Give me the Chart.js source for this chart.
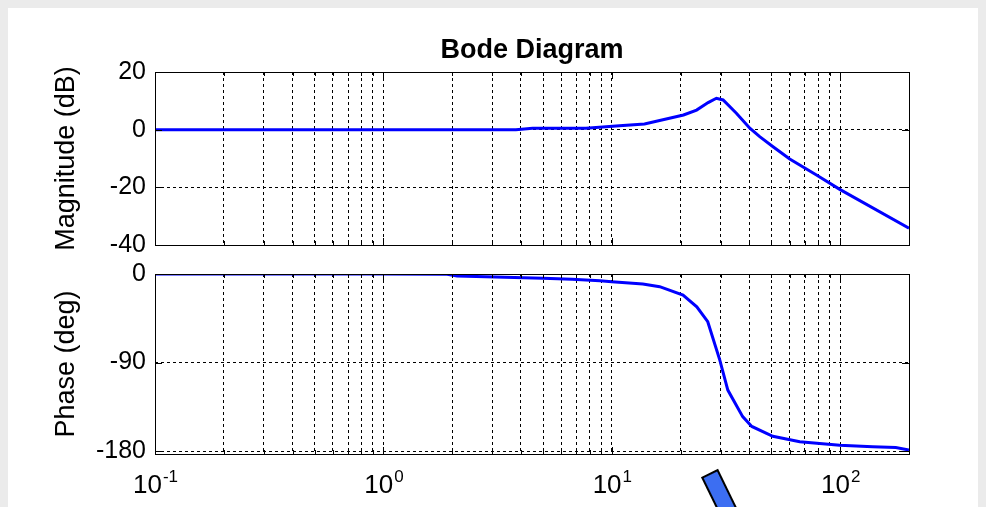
<!DOCTYPE html>
<html>
<head>
<meta charset="utf-8">
<script src="https://cdn.jsdelivr.net/npm/chart.js@4.4.0/dist/chart.umd.min.js"></script>
<style>
  html, body { margin: 0; padding: 0; background: #ebebeb; }
  #page { position: relative; width: 986px; height: 507px; overflow: hidden; }
  #panel { position: absolute; left: 8px; top: 8px; width: 970px; height: 499px; background: #fff; }
  #magChart { position: absolute; left: 0; top: 0; }
  #phaseChart { position: absolute; left: 0; top: 262px; }
  #arrow {
    position: absolute; left: 700px; top: 473px; width: 19px; height: 80px;
    box-sizing: border-box; background: #3c6ef2; border: 2px solid #000;
    transform-origin: 50% 0; transform: rotate(-26deg);
  }
</style>
</head>
<body>
<div id="page">
  <div id="panel"></div>
  <canvas id="magChart" width="986" height="262"></canvas>
  <canvas id="phaseChart" width="986" height="245"></canvas>
  <div id="arrow"></div>
</div>
<script>
// Magnitude curve (dB)
const magFreq = [0.1, 1, 3.8, 4.5, 7.7, 10.8, 13.9, 20.6, 23.5, 26.4, 28.7, 30.7, 35.1, 40.2, 44.4, 50.8, 60.1, 78.7, 99.5, 200];
const magDb   = [0, 0, 0, 0.45, 0.5, 1.4, 2.0, 5.1, 6.8, 9.4, 10.9, 10.3, 5.7, 0.5, -2.4, -5.9, -10.2, -15.7, -20.7, -34.2];

// Phase curve (deg)
const phaseFreq = [0.1, 1, 1.9, 2.1, 5.0, 6.7, 8.86, 10, 13.67, 16.2, 20.5, 23.55, 26.3, 29.7, 32.2, 37.4, 41, 50.7, 66.5, 99.5, 138.7, 175, 200];
const phaseDeg  = [0, 0, -0.3, -2, -4.4, -5.4, -6.8, -7.8, -10.2, -12.9, -21.4, -33.3, -48.5, -87.5, -118, -145, -155, -165, -170.6, -174, -175.6, -176.5, -179];

const magTicks = [-40, -20, 0, 20];
const phaseTicks = [-180, -90, 0];
const decadeLabels = [[0.1, "-1"], [1, "0"], [10, "1"], [100, "2"]];

const FONT = "Arial, 'Liberation Sans', Helvetica, sans-serif";

// every 1..9 x 10^n inside the range, for grid lines and minor ticks
function logGridTicks(scale) {
  const out = [];
  for (let e = -1; e <= 2; e++) {
    for (let m = 1; m <= 9; m++) {
      const v = m * Math.pow(10, e);
      if (v >= scale.min - 1e-9 && v <= scale.max + 1e-9) out.push({ value: v, major: m === 1 });
    }
  }
  scale.ticks = out;
}

// MATLAB-like box with inward ticks, plus title / decade labels
const boxPlugin = {
  id: "box",
  afterDraw(chart, args, opts) {
    const { ctx, chartArea: a, scales } = chart;
    ctx.save();
    ctx.strokeStyle = "#000";
    ctx.lineWidth = 1;
    ctx.strokeRect(a.left + 0.5, a.top + 0.5, a.right - a.left, a.bottom - a.top);
    ctx.beginPath();
    scales.x.ticks.forEach(t => {
      const x = Math.round(scales.x.getPixelForValue(t.value)) + 0.5;
      const len = t.major ? 7 : 4;
      ctx.moveTo(x, a.top); ctx.lineTo(x, a.top + len);
      ctx.moveTo(x, a.bottom); ctx.lineTo(x, a.bottom - len);
    });
    scales.y.ticks.forEach(t => {
      const y = Math.round(scales.y.getPixelForValue(t.value)) + 0.5;
      ctx.moveTo(a.left, y); ctx.lineTo(a.left + 7, y);
      ctx.moveTo(a.right, y); ctx.lineTo(a.right - 7, y);
    });
    ctx.stroke();

    ctx.fillStyle = "#000";
    if (opts.title) {
      ctx.font = "bold 27px " + FONT;
      ctx.textAlign = "center";
      ctx.textBaseline = "alphabetic";
      ctx.fillText(opts.title, (a.left + a.right) / 2, 58);
    }
    if (opts.decades) {
      decadeLabels.forEach(([v, exp]) => {
        const x = scales.x.getPixelForValue(v);
        ctx.font = "26px " + FONT;
        const w1 = ctx.measureText("10").width;
        ctx.font = "17px " + FONT;
        const w2 = ctx.measureText(exp).width;
        const x0 = x - (w1 + w2) / 2;
        ctx.textAlign = "left";
        ctx.textBaseline = "alphabetic";
        ctx.font = "26px " + FONT;
        ctx.fillText("10", x0, a.bottom + 39);
        ctx.font = "17px " + FONT;
        ctx.fillText(exp, x0 + w1 + 1, a.bottom + 28);
      });
    }
    ctx.restore();
  }
};

function bodeOptions(cfg) {
  return {
    responsive: false,
    animation: false,
    layout: { padding: cfg.padding },
    plugins: { legend: { display: false }, tooltip: { enabled: false }, box: cfg.box },
    scales: {
      x: {
        type: "logarithmic",
        min: 0.1,
        max: 200,
        afterBuildTicks: logGridTicks,
        ticks: { display: false },
        grid: { color: "#000", lineWidth: 1, drawTicks: false },
        border: { display: false, dash: [3, 3] }
      },
      y: {
        min: cfg.min,
        max: cfg.max,
        afterBuildTicks: s => { s.ticks = cfg.ticks.map(v => ({ value: v })); },
        afterFit: s => { s.width = 155; s.paddingTop = 0; s.paddingBottom = 0; },
        ticks: { color: "#000", padding: 9, font: { family: FONT, size: 25 } },
        grid: { color: "#000", lineWidth: 1, drawTicks: false },
        border: { display: false, dash: [3, 3] },
        title: {
          display: true,
          text: cfg.title,
          color: "#000",
          font: { family: FONT, size: 27 },
          padding: { top: 50, bottom: 0 }
        }
      }
    }
  };
}

function lineData(xs, ys) {
  return {
    datasets: [{
      data: xs.map((x, i) => ({ x: x, y: ys[i] })),
      borderColor: "#0000ff",
      borderWidth: 3,
      pointRadius: 0,
      tension: 0,
      fill: false
    }]
  };
}

new Chart(document.getElementById("magChart"), {
  type: "line",
  data: lineData(magFreq, magDb),
  options: bodeOptions({
    padding: { left: 0, right: 77, top: 72, bottom: 17 },
    min: -40, max: 20, ticks: magTicks,
    title: "Magnitude (dB)",
    box: { title: "Bode Diagram" }
  }),
  plugins: [boxPlugin]
});

new Chart(document.getElementById("phaseChart"), {
  type: "line",
  data: lineData(phaseFreq, phaseDeg),
  options: bodeOptions({
    padding: { left: 0, right: 77, top: 12, bottom: 53 },
    min: -183, max: 0, ticks: phaseTicks,
    title: "Phase (deg)",
    box: { decades: true }
  }),
  plugins: [boxPlugin]
});
</script>
</body>
</html>
